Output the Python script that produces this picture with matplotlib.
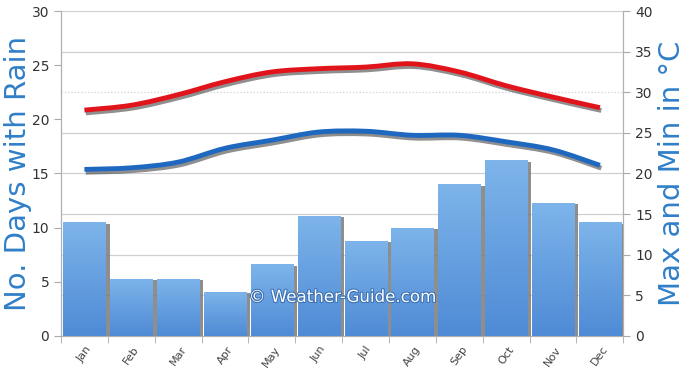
import numpy as np
import matplotlib
matplotlib.use("Agg")
import matplotlib.pyplot as plt
import matplotlib.patheffects as pe
import matplotlib.transforms as mtransforms
from matplotlib.path import Path
from matplotlib.patches import PathPatch

months = ['Jan', 'Feb', 'Mar', 'Apr', 'May', 'Jun', 'Jul', 'Aug', 'Sep', 'Oct', 'Nov', 'Dec']
rain_days = [10.5, 5.3, 5.3, 4.1, 6.6, 11.1, 8.8, 10.0, 14.0, 16.2, 12.3, 10.5]
temp_max = [27.8, 28.4, 29.7, 31.3, 32.5, 32.9, 33.1, 33.5, 32.5, 30.8, 29.4, 28.1]
temp_min = [20.5, 20.7, 21.4, 23.1, 24.1, 25.1, 25.2, 24.7, 24.7, 23.9, 22.9, 21.0]

label_blue = '#2f7fc8'


def smooth_path(xs, ys):
    # Catmull-Rom through the points, as cubic bezier segments
    pts = np.column_stack([np.asarray(xs, float), np.asarray(ys, float)])
    verts = [pts[0]]
    codes = [Path.MOVETO]
    n = len(pts)
    for i in range(n - 1):
        p0 = pts[i - 1] if i > 0 else pts[i]
        p1 = pts[i]
        p2 = pts[i + 1]
        p3 = pts[i + 2] if i + 2 < n else pts[i + 1]
        verts += [p1 + (p2 - p0) / 6.0, p2 - (p3 - p1) / 6.0, p2]
        codes += [Path.CURVE4] * 3
    return Path(verts, codes)


fig = plt.figure(figsize=(6.9, 3.8), dpi=100)
ax = fig.add_axes([0.0884, 0.116, 0.815, 0.855])
ax2 = ax.twinx()

x = np.arange(len(months))

# bars on the left axis, with a vertical gradient
bars = ax.bar(x, rain_days, width=0.9, color='#5b97dc', edgecolor='none', zorder=3)
grad = np.linspace(0, 1, 100).reshape(-1, 1)
cmap = matplotlib.colors.LinearSegmentedColormap.from_list('rain', ['#4f8bd6', '#7db4ea'])
for b in bars:
    b.set_path_effects([pe.SimplePatchShadow(offset=(3, -1), shadow_rgbFace='#7a7a7a', alpha=0.85), pe.Normal()])
    x0, w, h = b.get_x(), b.get_width(), b.get_height()
    im = ax.imshow(grad, cmap=cmap, extent=[x0, x0 + w, 0, h], origin='lower',
                   aspect='auto', zorder=4)
    im.set_clip_path(b)

ax.set_xlim(-0.5, 11.5)
ax.set_ylim(0, 30)
ax.set_yticks(range(0, 31, 5))
ax.set_xticks(x)
ax.set_xticklabels(months, rotation=55, fontsize=8, color='#444444')
ax.set_xticks(np.arange(-0.5, 12, 1), minor=True)
ax.tick_params(axis='x', which='major', length=0, pad=6)
ax.tick_params(axis='x', which='minor', length=5, color='#aaaaaa')
ax.tick_params(axis='y', labelsize=10, colors='#333333', length=5)
ax.tick_params(axis='y', color='#aaaaaa')

# temperature lines on the right axis
ax2.set_ylim(0, 40)
ax2.set_yticks(range(0, 41, 5))
ax2.tick_params(axis='y', labelsize=10, colors='#333333', length=5)
ax2.tick_params(axis='y', color='#aaaaaa')
for v in range(5, 41, 5):
    ls = ':' if v == 30 else '-'
    ax2.axhline(v, color='#d0d0d0', linewidth=0.9, linestyle=ls, zorder=0)

shift = mtransforms.ScaledTranslation(1 / 72, -2 / 72, fig.dpi_scale_trans)
for vals, col in [(temp_max, '#e0141a'), (temp_min, '#1f68c0')]:
    path = smooth_path(x, vals)
    ax2.add_patch(PathPatch(path, facecolor='none', edgecolor='#333333', alpha=0.55,
                            linewidth=3.5, transform=ax2.transData + shift, zorder=4))
    ax2.add_patch(PathPatch(path, facecolor='none', edgecolor=col, linewidth=3.5,
                            capstyle='butt', zorder=5))

ax.set_zorder(ax2.get_zorder() + 1)
ax.patch.set_visible(False)

for a in (ax, ax2):
    a.spines['top'].set_visible(False)
    for s in ['left', 'right', 'bottom']:
        a.spines[s].set_color('#b0b0b0')

ax.set_ylabel('No. Days with Rain', fontsize=21, color=label_blue, labelpad=0)
ax2.set_ylabel('Max and Min in °C', fontsize=21, color=label_blue, labelpad=4)

ax.text(0.5, 0.12, '© Weather-Guide.com', transform=ax.transAxes, ha='center', va='center',
        fontsize=12, color='white', zorder=10,
        path_effects=[pe.withStroke(linewidth=1.5, foreground='#3a6fb0')])

fig.savefig('out.png', dpi=100)
